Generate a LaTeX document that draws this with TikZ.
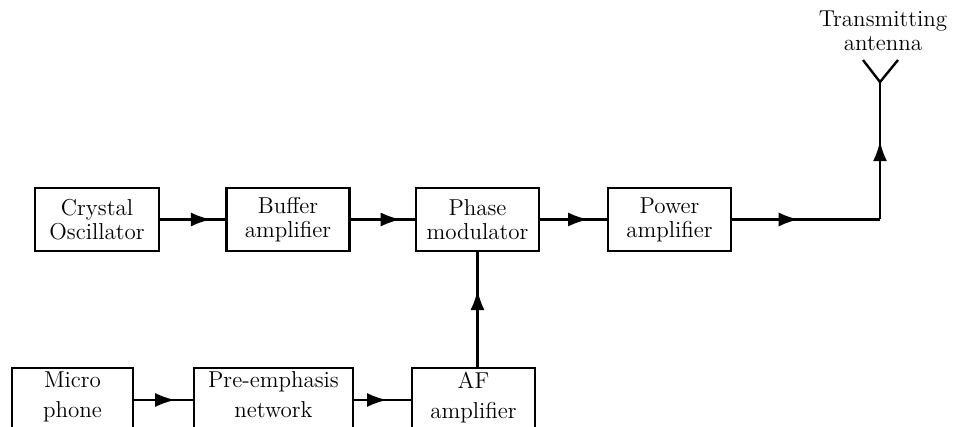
\documentclass[tikz,border=0pt]{standalone}
\usepackage{tikz}
\usetikzlibrary{arrows.meta,positioning,decorations.markings}

\begin{document}
\begin{tikzpicture}[
    x=0.5pt, y=-0.5pt,
    block/.style={rectangle, draw, line width=1.2pt, minimum width=#1, minimum height=31.5pt,
        align=center, inner sep=0pt, font=\fontsize{11.5}{12}\selectfont},
    block/.default=61.5pt,
    lowblock/.style={block=#1, minimum height=32pt, text depth=5pt},
    lowblock/.default=61.5pt,
    flow/.style={line width=1.2pt, decoration={markings,
        mark=at position #1 with {\arrow{Latex[length=10pt,width=7pt]}}}, postaction={decorate}},
    flow/.default=0.78
]
\useasboundingbox (0,0) rectangle (953,427);

% Row 1: carrier chain
\node[block=62pt] (xtal) at (97, 219.5) {Crystal\\Oscillator};
\node[block] (buffer) at (288, 219.5) {Buffer\\amplifier};
\node[block] (phase) at (477.5, 219.5) {Phase\\modulator};
\node[block] (power) at (669.5, 219.5) {Power\\amplifier};

% Row 2: audio chain (cut at the bottom edge)
\node[lowblock=60.5pt] (mic) at (72.5, 400) {Micro\\[3pt]phone};
\node[lowblock=79.5pt] (preemph) at (273.5, 400) {Pre-emphasis\\[3pt]network};
\node[lowblock] (af) at (473.5, 400) {AF\\[3pt]amplifier};

% Antenna
\coordinate (bend) at (880, 219.5);
\coordinate (ant) at (880, 82);
\node[font=\fontsize{11.5}{12}\selectfont, align=center] (antlabel) at (883, 31)
    {Transmitting\\antenna};

% -- Arrows --
\draw[flow] (xtal) -- (buffer);
\draw[flow] (buffer) -- (phase);
\draw[flow=0.72] (phase) -- (power);
\draw[flow=0.45] (power.east) -- (bend);
\draw[flow=0.57] (bend) -- (ant);
\draw[line width=1.2pt] (863, 60) -- (ant) -- (898, 60);
\draw[flow=0.7] (mic) -- (preemph.west |- mic);
\draw[flow=0.58] (preemph) -- (af.west |- preemph);
\draw[flow=0.67] (af.north -| phase.south) -- (phase.south);

\end{tikzpicture}
\end{document}
